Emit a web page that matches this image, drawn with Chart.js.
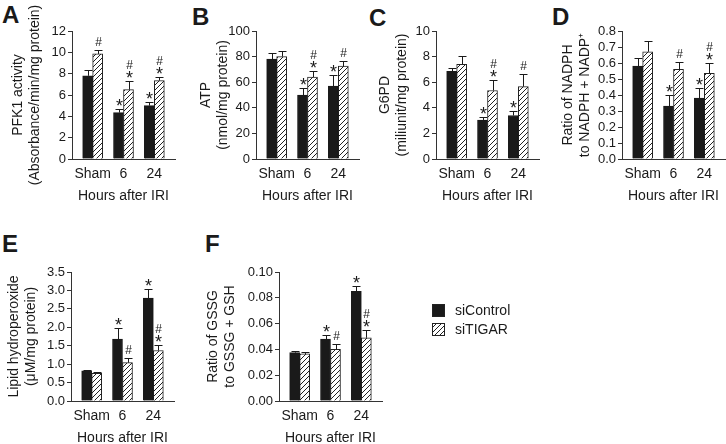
<!DOCTYPE html>
<html>
<head>
<meta charset="utf-8">
<script src="https://cdn.jsdelivr.net/npm/chart.js@4.4.0/dist/chart.umd.min.js"></script>
<style>
body { margin: 0; background: #fff; width: 726px; height: 444px; position: relative; overflow: hidden; font-family: "Liberation Sans", Arial, sans-serif; }
canvas { position: absolute; }
.lbl { position: absolute; font-weight: bold; font-size: 24px; line-height: 1; color: #1a1a1a; }
</style>
</head>
<body>
<div class="lbl" style="left:2px;top:3px">A</div>
<div class="lbl" style="left:192px;top:5px">B</div>
<div class="lbl" style="left:369px;top:6px">C</div>
<div class="lbl" style="left:552px;top:5px">D</div>
<div class="lbl" style="left:2px;top:232px">E</div>
<div class="lbl" style="left:205px;top:232px">F</div>

<canvas id="chartA" width="180" height="215" style="left:0;top:0"></canvas>
<canvas id="chartB" width="180" height="215" style="left:180px;top:0"></canvas>
<canvas id="chartC" width="180" height="215" style="left:360px;top:0"></canvas>
<canvas id="chartD" width="186" height="215" style="left:540px;top:0"></canvas>
<canvas id="chartE" width="180" height="229" style="left:0;top:215px"></canvas>
<canvas id="chartF" width="380" height="229" style="left:180px;top:215px"></canvas>

<script>
var hours = ["Sham", "6", "24"];

// A - PFK1 activity
var pfkCtrl = [7.8, 4.35, 5.0];
var pfkCtrlErr = [0.55, 0.38, 0.3];
var pfkTigar = [9.85, 6.5, 7.35];
var pfkTigarErr = [0.35, 0.85, 0.3];
var pfkCtrlMarks = ["", "*", "*"];
var pfkTigarMarks = ["#", "#*", "#*"];

// B - ATP
var atpCtrl = [78, 50, 57];
var atpCtrlErr = [5, 5.5, 8.5];
var atpTigar = [80, 64, 72.5];
var atpTigarErr = [4, 4.5, 4];
var atpCtrlMarks = ["", "*", "*"];
var atpTigarMarks = ["", "#*", "#"];

// C - G6PD
var g6pdCtrl = [6.85, 3.05, 3.4];
var g6pdCtrlErr = [0.28, 0.27, 0.32];
var g6pdTigar = [7.4, 5.35, 5.65];
var g6pdTigarErr = [0.68, 0.83, 0.97];
var g6pdCtrlMarks = ["", "*", "*"];
var g6pdTigarMarks = ["", "#*", "#"];

// D - NADPH ratio
var nadphCtrl = [0.58, 0.33, 0.38];
var nadphCtrlErr = [0.05, 0.07, 0.065];
var nadphTigar = [0.67, 0.56, 0.535];
var nadphTigarErr = [0.065, 0.045, 0.063];
var nadphCtrlMarks = ["", "*", "*"];
var nadphTigarMarks = ["", "#", "#*"];

// E - lipid hydroperoxide
var lipidCtrl = [0.82, 1.68, 2.79];
var lipidCtrlErr = [0.03, 0.29, 0.25];
var lipidTigar = [0.75, 1.04, 1.37];
var lipidTigarErr = [0.04, 0.14, 0.16];
var lipidCtrlMarks = ["", "*", "*"];
var lipidTigarMarks = ["", "#", "#*"];

// F - GSSG ratio
var gssgCtrl = [0.0375, 0.048, 0.085];
var gssgCtrlErr = [0.0015, 0.0035, 0.0045];
var gssgTigar = [0.0365, 0.040, 0.049];
var gssgTigarErr = [0.0012, 0.0038, 0.0057];
var gssgCtrlMarks = ["", "*", "*"];
var gssgTigarMarks = ["", "#", "#*"];

var ink = "#1a1a1a";
var fontFam = '"Liberation Sans", Arial, sans-serif';

function hatch() {
    var c = document.createElement("canvas");
    c.width = 5; c.height = 5;
    var g = c.getContext("2d");
    g.fillStyle = "#fff";
    g.fillRect(0, 0, 5, 5);
    g.strokeStyle = "#222";
    g.lineWidth = 1;
    g.beginPath();
    g.moveTo(-1, 6);
    g.lineTo(6, -1);
    g.stroke();
    return g.createPattern(c, "repeat");
}

function drawMark(ctx, ch, x, cy, size) {
    ctx.font = size + "px " + fontFam;
    var m = ctx.measureText(ch);
    ctx.textAlign = "center";
    ctx.textBaseline = "alphabetic";
    ctx.fillText(ch, x, cy + (m.actualBoundingBoxAscent - m.actualBoundingBoxDescent) / 2);
}

// error bars (upper only) and significance marks
var errBars = {
    id: "errbars",
    afterDatasetsDraw: function(chart) {
        var ctx = chart.ctx, ys = chart.scales.y;
        ctx.save();
        chart.data.datasets.forEach(function(ds, di) {
            chart.getDatasetMeta(di).data.forEach(function(bar, i) {
                var top = Math.round(ys.getPixelForValue(ds.data[i].y + ds.errors[i])) + 0.5;
                var x = Math.round(bar.x) + 0.5;
                ctx.strokeStyle = ink;
                ctx.lineWidth = 1;
                ctx.beginPath();
                ctx.moveTo(x, bar.y);
                ctx.lineTo(x, top);
                ctx.moveTo(x - 4, top);
                ctx.lineTo(x + 4, top);
                ctx.stroke();
                ctx.fillStyle = ink;
                var mk = ds.marks[i];
                var star = mk.indexOf("*") >= 0;
                if (star) drawMark(ctx, "*", x, top - 7, 18);
                if (mk.indexOf("#") >= 0) drawMark(ctx, "#", x, top - (star ? 17 : 9.5), 12);
            });
        });
        ctx.restore();
    }
};

// legend drawn next to panel F
var keyBox = {
    id: "keybox",
    afterDraw: function(chart) {
        var ctx = chart.ctx;
        ctx.save();
        chart.data.datasets.forEach(function(ds, i) {
            var y = 89 + i * 19;
            ctx.fillStyle = ds.backgroundColor;
            ctx.fillRect(252, y, 13, 13);
            ctx.strokeStyle = "#222";
            ctx.lineWidth = 1;
            ctx.strokeRect(252.5, y + 0.5, 12, 12);
            ctx.fillStyle = ink;
            ctx.font = "14px " + fontFam;
            ctx.textAlign = "left";
            ctx.textBaseline = "middle";
            ctx.fillText(ds.label, 275, y + 7);
        });
        ctx.restore();
    }
};

function panel(id, p) {
    var plugins = [errBars];
    if (p.key) plugins.push(keyBox);
    return new Chart(document.getElementById(id), {
        type: "bar",
        data: {
            datasets: [
                {
                    label: "siControl",
                    data: p.ctrl.map(function(v, i) { return {x: i, y: v}; }),
                    errors: p.ctrlErr,
                    marks: p.ctrlMarks,
                    backgroundColor: ink,
                    borderColor: ink,
                    borderWidth: 1,
                    barThickness: 10
                },
                {
                    label: "siTIGAR",
                    data: p.tigar.map(function(v, i) { return {x: i, y: v}; }),
                    errors: p.tigarErr,
                    marks: p.tigarMarks,
                    backgroundColor: hatch(),
                    borderColor: "#222",
                    borderWidth: 1,
                    barThickness: 10
                }
            ]
        },
        options: {
            responsive: false,
            animation: false,
            events: [],
            layout: { padding: p.pad },
            plugins: { legend: { display: false }, tooltip: { enabled: false } },
            scales: {
                x: {
                    type: "linear",
                    min: -0.67,
                    max: 2.67,
                    offset: false,
                    grid: { display: false },
                    border: { display: true, color: "#333" },
                    afterBuildTicks: function(s) { s.ticks = [0, 1, 2].map(function(v) { return {value: v}; }); },
                    ticks: {
                        autoSkip: false, maxRotation: 0, padding: -1, color: ink,
                        font: { size: 14, family: fontFam },
                        callback: function(v) { return hours[v]; }
                    },
                    title: { display: true, text: "Hours after IRI", color: ink, padding: { top: 0, bottom: -3 }, font: { size: 14, family: fontFam } },
                    afterFit: function(s) { s.height = 43; }
                },
                y: {
                    min: 0,
                    max: p.yMax,
                    grid: { drawOnChartArea: false, tickLength: 4, color: "#333" },
                    border: { color: "#333" },
                    ticks: {
                        autoSkip: false, stepSize: p.yStep, padding: 2, color: ink,
                        font: { size: 13, family: fontFam },
                        callback: function(v) { return v.toFixed(p.digits); }
                    },
                    title: { display: true, text: p.yTitle, color: ink, padding: { top: p.titlePad, bottom: 0 }, font: { size: 14, family: fontFam } },
                    afterFit: function(s) { s.width = p.yWidth; }
                }
            }
        },
        plugins: plugins
    });
}

panel("chartA", {
    ctrl: pfkCtrl, ctrlErr: pfkCtrlErr, ctrlMarks: pfkCtrlMarks,
    tigar: pfkTigar, tigarErr: pfkTigarErr, tigarMarks: pfkTigarMarks,
    yMax: 12, yStep: 2, digits: 0,
    yTitle: ["PFK1 activity", "(Absorbance/min/mg protein)"],
    yWidth: 72, titlePad: 9.6, pad: { top: 31, bottom: 13, left: 0, right: 5 }
});
panel("chartB", {
    ctrl: atpCtrl, ctrlErr: atpCtrlErr, ctrlMarks: atpCtrlMarks,
    tigar: atpTigar, tigarErr: atpTigarErr, tigarMarks: atpTigarMarks,
    yMax: 100, yStep: 20, digits: 0,
    yTitle: ["ATP", "(nmol/mg protein)"],
    yWidth: 76, titlePad: 17.6, pad: { top: 31, bottom: 13, left: 0, right: 1 }
});
panel("chartC", {
    ctrl: g6pdCtrl, ctrlErr: g6pdCtrlErr, ctrlMarks: g6pdCtrlMarks,
    tigar: g6pdTigar, tigarErr: g6pdTigarErr, tigarMarks: g6pdTigarMarks,
    yMax: 10, yStep: 2, digits: 0,
    yTitle: ["G6PD", "(miliunit/mg protein)"],
    yWidth: 76, titlePad: 16.6, pad: { top: 31, bottom: 13, left: 0, right: 1 }
});
panel("chartD", {
    ctrl: nadphCtrl, ctrlErr: nadphCtrlErr, ctrlMarks: nadphCtrlMarks,
    tigar: nadphTigar, tigarErr: nadphTigarErr, tigarMarks: nadphTigarMarks,
    yMax: 0.8, yStep: 0.1, digits: 1,
    yTitle: ["Ratio of NADPH", "to NADPH + NADP\u207A"],
    yWidth: 82, titlePad: 19.6, pad: { top: 31, bottom: 13, left: 0, right: 1 }
});
panel("chartE", {
    ctrl: lipidCtrl, ctrlErr: lipidCtrlErr, ctrlMarks: lipidCtrlMarks,
    tigar: lipidTigar, tigarErr: lipidTigarErr, tigarMarks: lipidTigarMarks,
    yMax: 3.5, yStep: 0.5, digits: 1,
    yTitle: ["Lipid hydroperoxide", "(\u03BCM/mg protein)"],
    yWidth: 71, titlePad: 5.6, pad: { top: 57, bottom: 0, left: 0, right: 6 }
});
panel("chartF", {
    ctrl: gssgCtrl, ctrlErr: gssgCtrlErr, ctrlMarks: gssgCtrlMarks,
    tigar: gssgTigar, tigarErr: gssgTigarErr, tigarMarks: gssgTigarMarks,
    yMax: 0.1, yStep: 0.02, digits: 2,
    yTitle: ["Ratio of GSSG", "to GSSG + GSH"],
    yWidth: 99, titlePad: 24.6, pad: { top: 57, bottom: 0, left: 0, right: 178 },
    key: true
});
</script>
</body>
</html>
